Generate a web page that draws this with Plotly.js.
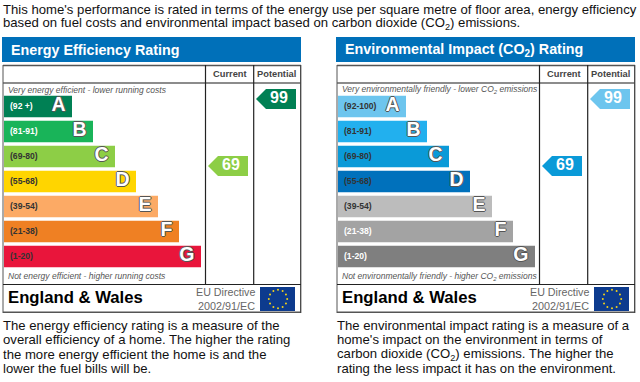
<!DOCTYPE html>
<html><head><meta charset="utf-8">
<script src="https://cdn.plot.ly/plotly-3.0.1.min.js"></script>
<style>html,body{margin:0;padding:0;background:#fff}#c{width:640px;height:382px}</style>
</head><body><div id="c"></div>
<script>
// ---- data ----
const bandLetters = ['A','B','C','D','E','F','G'];
const bandLengths = [68,89,111,132,154,175,197];
const energyRanges = ['(92 +)','(81-91)','(69-80)','(55-68)','(39-54)','(21-38)','(1-20)'];
const envRanges = ['(92-100)','(81-91)','(69-80)','(55-68)','(39-54)','(21-38)','(1-20)'];
const energyColors = ['#008054','#19b459','#8dce46','#ffd500','#fcaa65','#ef8023','#e9153b'];
const envColors = ['#6dc5ee','#22b0ee','#0a9ad8','#0071bc','#bcbcbc','#a3a3a3','#7f7f7f'];
const energyLabelColors = ['#fff','#fff','#333','#333','#333','#333','#333'];
const envLabelColors = ['#333','#333','#333','#333','#333','#fff','#fff'];
const currentRating = 69, potentialRating = 99;
const introLines = ["This home's performance is rated in terms of the energy use per square metre of floor area, energy efficiency",
  "based on fuel costs and environmental impact based on carbon dioxide (CO<sub>2</sub>) emissions."];
const energyNotes = ["The energy efficiency rating is a measure of the","overall efficiency of a home. The higher the rating","the more energy efficient the home is and the","lower the fuel bills will be."];
const envNotes = ["The environmental impact rating is a measure of a","home's impact on the environment in terms of","carbon dioxide (CO<sub>2</sub>) emissions. The higher the","rating the less impact it has on the environment."];

// ---- layout helpers ----
const W=640,H=382,SANS='"Liberation Sans",Arial,sans-serif';
const OFF=334;
const px=x=>x/W, py=y=>1-y/H;
const annotations=[],shapes=[],traces=[];
function label(text,x,y,size,color,opt){opt=opt||{};
  annotations.push({text:opt.italic?'<i>'+text+'</i>':(opt.bold?'<b>'+text+'</b>':text),x:px(x),y:py(y),xref:'paper',yref:'paper',showarrow:false,
    xanchor:opt.anchor||'left',yanchor:'middle',align:opt.anchor||'left',borderpad:0,borderwidth:0,
    font:{family:SANS,size:size,color:color}});
}
function rect(x0,y0,x1,y1,fill){shapes.push({type:'rect',xref:'paper',yref:'paper',x0:px(x0),x1:px(x1),y0:py(y0),y1:py(y1),fillcolor:fill,line:{width:0},layer:'below'});}
function line(x0,y0,x1,y1,c,w){shapes.push({type:'line',xref:'paper',yref:'paper',x0:px(x0),x1:px(x1),y0:py(y0),y1:py(y1),line:{color:c,width:w},layer:'below'});}

function panel(o,title,topNote,botNote,ranges,colors,labelColors,xa,ya,ra,notes,arrowCur,arrowPot){
  rect(2+o,37,301+o,62,'#0070b9');
  label(title,11+o,50,14.3,'#fff',{bold:true});
  // frame
  rect(3+o,65,301+o,313,'#fff');
  line(3+o,65.5,301+o,65.5,'#555',1.5);
  line(3+o,83,301+o,83,'#666',1.5);
  line(3+o,312.3,301+o,312.3,'#555',1.5);
  line(3+o,65,3+o,313,'#555',1);
  line(300.7+o,65,300.7+o,313,'#444',1.3);
  line(205.5+o,65,205.5+o,284.5,'#222',1.2);
  line(253.7+o,65,253.7+o,284.5,'#222',1.2);
  line(3+o,284.5,301+o,284.5,'#222',1);
  label('Current',229.5+o,74,9.3,'#444',{bold:true,anchor:'center'});
  label('Potential',276.5+o,74,9.3,'#444',{bold:true,anchor:'center'});
  label(topNote,8+o,89.5,8.5,'#555',{italic:true});
  label(botNote,8+o,276,8.5,'#555',{italic:true});
  label('England &amp; Wales',8+o,297.5,16.7,'#000',{bold:true});
  label('EU Directive',255+o,292,10.7,'#666',{anchor:'right'});
  label('2002/91/EC',255+o,305.5,10.8,'#666',{anchor:'right'});
  rect(260+o,287,295+o,311,'#0d3b8e');
  for(let i=0;i<12;i++){const a=i*Math.PI/6,cx=278+o+9.2*Math.cos(a),cy=299+9.2*Math.sin(a);
    shapes.push({type:'circle',xref:'paper',yref:'paper',x0:px(cx-1),x1:px(cx+1),y0:py(cy-1),y1:py(cy+1),fillcolor:'#f2d21a',line:{width:0},layer:'below'});}
  notes.forEach((t,i)=>label(t,3+o,325.3+i*14.35,13.15,'#111'));
  // bars
  const yName=ya.replace('yaxis','y'), xName=xa.replace('xaxis','x'), rName=ra.replace('yaxis','y');
  traces.push({type:'bar',orientation:'h',y:bandLetters,x:bandLengths,width:0.86,xaxis:xName,yaxis:yName,
    marker:{color:colors,line:{width:0}},hoverinfo:'skip'});
  traces.push({type:'scatter',mode:'text',y:bandLetters,x:bandLetters.map(()=>6),text:ranges,textposition:'middle right',
    xaxis:xName,yaxis:yName,cliponaxis:false,hoverinfo:'skip',
    textfont:{family:SANS,size:8.6,color:labelColors,weight:700}});
  traces.push({type:'scatter',mode:'text',y:bandLetters,x:bandLengths.map(v=>v-6.5),text:bandLetters,textposition:'middle left',
    xaxis:xName,yaxis:yName,cliponaxis:false,hoverinfo:'skip',
    textfont:{family:SANS,size:19.5,color:'#fff',weight:700,shadow:'-1px 0 #555,1px 0 #555,0 -1px #555,0 1px #555'}});
  // rating arrows
  const arrow=(val,tipX,color)=>{
    shapes.push({type:'path',xref:xName,yref:rName,xsizemode:'pixel',ysizemode:'pixel',xanchor:tipX,yanchor:val,
      path:'M0,0 L10,10 L40,10 L40,-10 L10,-10 Z',fillcolor:color,line:{width:0},layer:'below'});
    traces.push({type:'scatter',mode:'text',x:[tipX+23],y:[val],text:[String(val)],textposition:'middle center',
      xaxis:xName,yaxis:rName,cliponaxis:false,hoverinfo:'skip',textfont:{family:SANS,size:16,color:'#fff',weight:700}});
  };
  arrow(currentRating,204,arrowCur);
  arrow(potentialRating,252,arrowPot);
}

introLines.forEach((t,i)=>label(t,3,9.3+i*14.3,13.15,'#111'));
panel(0,'Energy Efficiency Rating','Very energy efficient - lower running costs','Not energy efficient - higher running costs',
  energyRanges,energyColors,energyLabelColors,'xaxis','yaxis','yaxis3',energyNotes,energyColors[2],energyColors[0]);
panel(OFF,'Environmental Impact (CO<sub>2</sub>) Rating','Very environmentally friendly - lower CO<sub>2</sub> emissions','Not environmentally friendly - higher CO<sub>2</sub> emissions',
  envRanges,envColors,envLabelColors,'xaxis2','yaxis2','yaxis4',envNotes,envColors[2],envColors[0]);

const hidden={visible:false,fixedrange:true};
const topPx=94.1,botPx=269.1,ratingTopPx=84;
const yd=[py(botPx),py(topPx)];
const ryd=[py(botPx),py(ratingTopPx)];
const rr=[99-(botPx-99)/2.2333,99+(99-ratingTopPx)/2.2333];
const layout={width:W,height:H,margin:{l:0,r:0,t:0,b:0},paper_bgcolor:'#fff',plot_bgcolor:'rgba(0,0,0,0)',showlegend:false,barmode:'overlay',
  xaxis:Object.assign({domain:[px(4),px(300)],range:[0,296],anchor:'y'},hidden),
  xaxis2:Object.assign({domain:[px(4+OFF),px(300+OFF)],range:[0,296],anchor:'y2'},hidden),
  yaxis:Object.assign({domain:yd,type:'category',categoryorder:'array',categoryarray:bandLetters,range:[6.5,-0.5],anchor:'x'},hidden),
  yaxis2:Object.assign({domain:yd,type:'category',categoryorder:'array',categoryarray:bandLetters,range:[6.5,-0.5],anchor:'x2'},hidden),
  yaxis3:Object.assign({domain:ryd,range:rr,anchor:'x'},hidden),
  yaxis4:Object.assign({domain:ryd,range:rr,anchor:'x2'},hidden),
  annotations,shapes};
Plotly.newPlot('c',traces,layout,{displayModeBar:false,staticPlot:true});
</script></body></html>
